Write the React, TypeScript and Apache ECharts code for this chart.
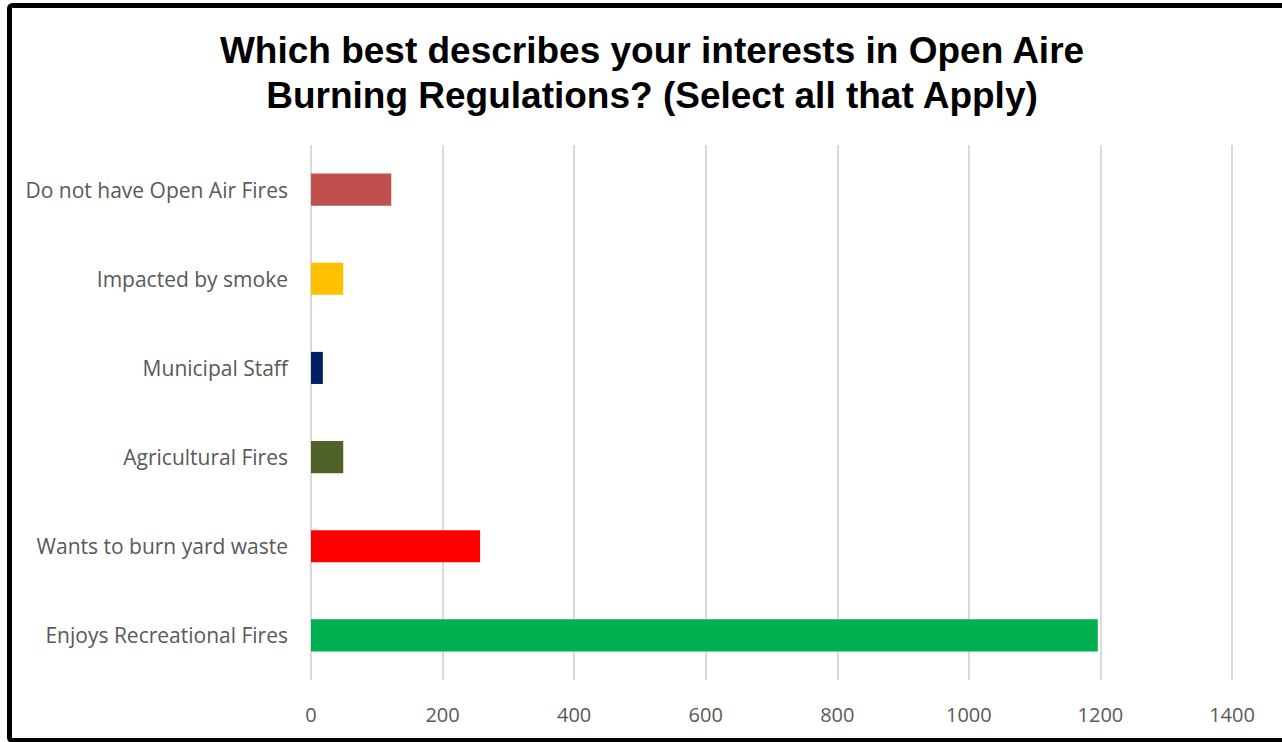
import React, { useEffect, useRef } from "react";
import * as echarts from "echarts";

const categories = [
  "Do not have Open Air Fires",
  "Impacted by smoke",
  "Municipal Staff",
  "Agricultural Fires",
  "Wants to burn yard waste",
  "Enjoys Recreational Fires",
];
const values = [122, 49, 18, 49, 257, 1196];
const barColors = ["#C0504D", "#FFC000", "#002060", "#4F6228", "#FF0000", "#00B050"];
const titleLines = [
  "Which best describes your interests in Open Aire",
  "Burning Regulations? (Select all that Apply)",
];

export default function App() {
  const ref = useRef<HTMLDivElement>(null);
  useEffect(() => {
    if (!ref.current) return;
    const chart = echarts.init(ref.current, null, { renderer: "svg" });
    chart.setOption({
      animation: false,
      backgroundColor: "#ffffff",
      title: {
        text: titleLines.join("\n"),
        left: 647,
        top: 23,
        textAlign: "center",
        textStyle: {
          fontFamily: "Liberation Sans, Arial, sans-serif",
          fontWeight: "bold",
          fontSize: 37,
          lineHeight: 45,
          color: "#000000",
        },
      },
      graphic: [
        {
          type: "rect",
          shape: { x: 9.5, y: 5.5, width: 1300, height: 735, r: 3 },
          style: { fill: "none", stroke: "#000000", lineWidth: 5 },
          z: 100,
        },
      ],
      grid: { left: 311, right: 50, top: 145, bottom: 62, containLabel: false },
      xAxis: {
        type: "value",
        min: 0,
        max: 1400,
        interval: 200,
        axisLine: { show: false },
        axisTick: { show: false },
        axisLabel: {
          margin: 24,
          fontFamily: "Open Sans, Noto Sans, sans-serif",
          fontSize: 20,
          color: "#595959",
          formatter: (v: number) => String(v),
        },
        splitLine: { show: true, lineStyle: { color: "#D9D9D9", width: 2 } },
      },
      yAxis: {
        type: "category",
        data: categories,
        inverse: true,
        axisLine: { show: false },
        axisTick: { show: false },
        axisLabel: {
          margin: 23,
          fontFamily: "Open Sans, Noto Sans, sans-serif",
          fontSize: 21,
          color: "#595959",
        },
      },
      series: [
        {
          type: "bar",
          data: values.map((v, i) => ({ value: v, itemStyle: { color: barColors[i] } })),
          barWidth: "36%",
        },
      ],
    });
    return () => chart.dispose();
  }, []);
  return (
    <div
      ref={ref}
      style={{ position: "absolute", left: 0, top: 0, width: 1282, height: 742 }}
    />
  );
}
